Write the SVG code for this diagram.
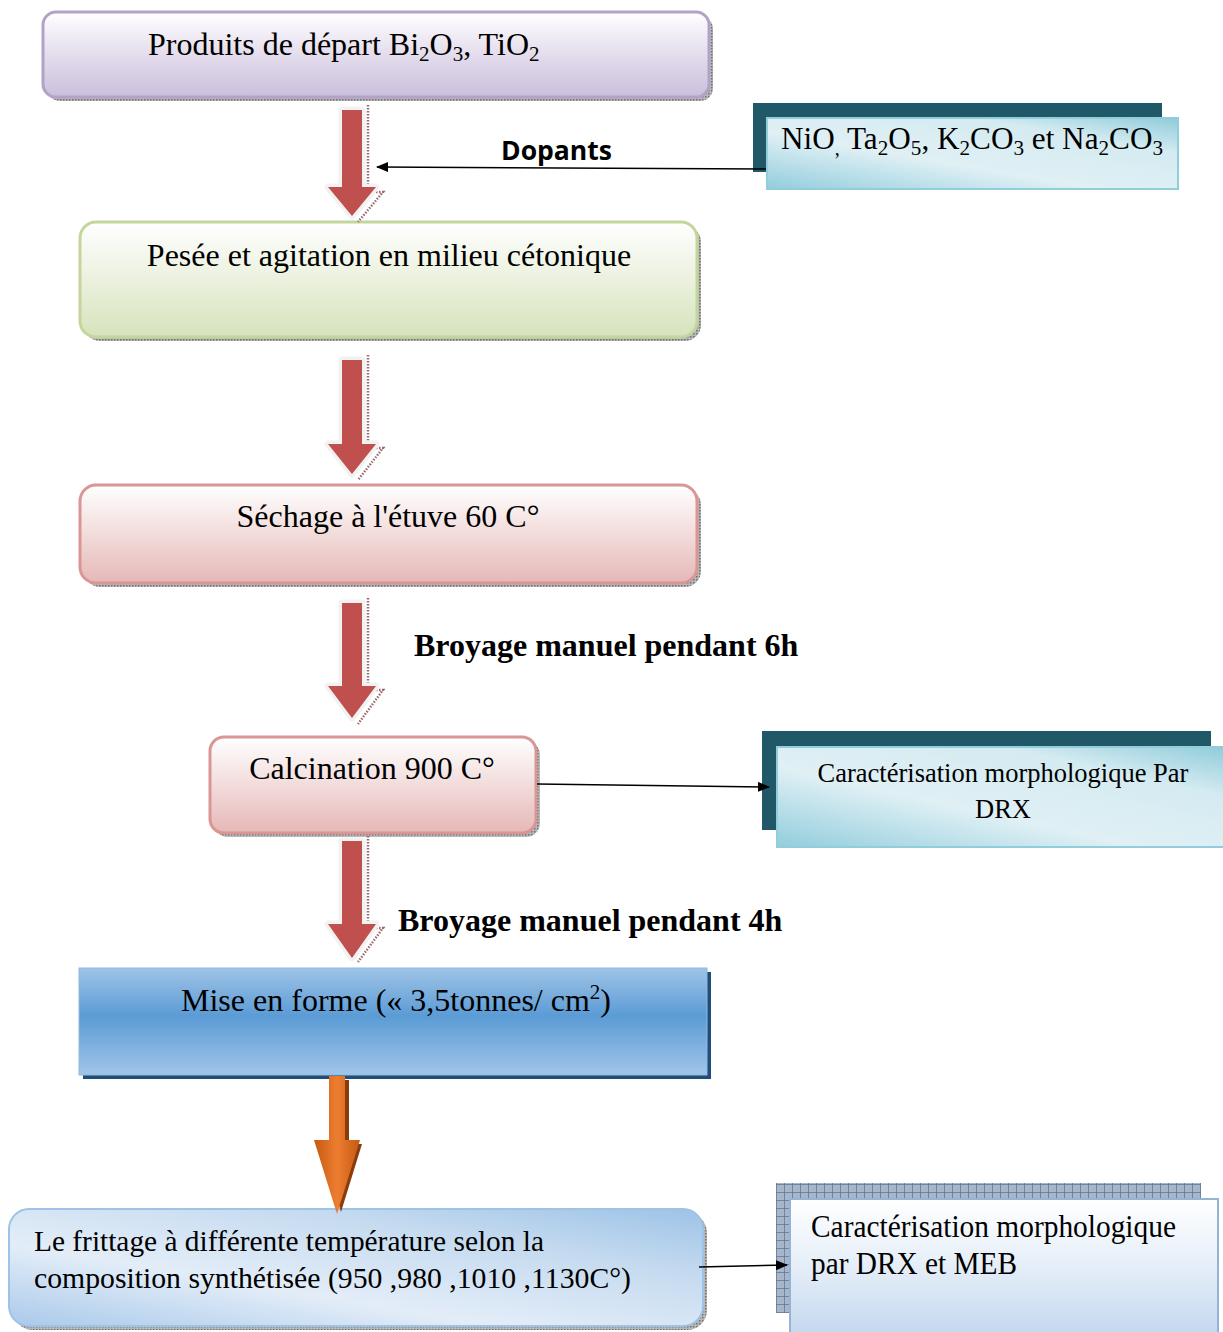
<svg xmlns="http://www.w3.org/2000/svg" width="1223" height="1332" viewBox="0 0 1223 1332">
<defs>
  <style>
    .t { font-family: "Liberation Serif", "Times New Roman", serif; fill: #000; }
    .tb { font-family: "Liberation Serif", "Times New Roman", serif; font-weight: bold; fill: #000; }
    .ts { font-family: "Open Sans", "DejaVu Sans", sans-serif; font-weight: bold; fill: #000; }
    .conn { stroke: #000; stroke-width: 1.5; fill: none; }
    .redarrow { fill: #c0504d; stroke: #f2f2f2; stroke-width: 7; stroke-linejoin: round; paint-order: stroke; }
    .redshadow { fill: none; stroke: #9a6a6a; stroke-width: 2.5; stroke-dasharray: 1.5 1.5; }
  </style>
  <pattern id="dots" width="3" height="3" patternUnits="userSpaceOnUse">
    <rect width="3" height="3" fill="#b8b8b8"/>
    <rect width="1.5" height="1.5" fill="#6f6f6f"/>
  </pattern>
  <pattern id="grid" width="8" height="8" patternUnits="userSpaceOnUse">
    <rect width="8" height="8" fill="#a7b6c9"/>
    <path d="M0 0H8M0 0V8" stroke="#5d7594" stroke-width="1.5"/>
  </pattern>
  <linearGradient id="gPurple" x1="0" y1="0" x2="0" y2="1">
    <stop offset="0" stop-color="#ffffff"/>
    <stop offset="0.5" stop-color="#e4dded"/>
    <stop offset="1" stop-color="#cabfdb"/>
  </linearGradient>
  <linearGradient id="gGreen" x1="0" y1="0" x2="0" y2="1">
    <stop offset="0" stop-color="#ffffff"/>
    <stop offset="0.5" stop-color="#ebf1de"/>
    <stop offset="1" stop-color="#d6e3bc"/>
  </linearGradient>
  <linearGradient id="gPink" x1="0" y1="0" x2="0" y2="1">
    <stop offset="0" stop-color="#ffffff"/>
    <stop offset="0.5" stop-color="#f2dcdb"/>
    <stop offset="1" stop-color="#e5b8b7"/>
  </linearGradient>
  <linearGradient id="gBlue" x1="0" y1="0" x2="0" y2="1">
    <stop offset="0" stop-color="#9fc4e7"/>
    <stop offset="0.45" stop-color="#5b9bd5"/>
    <stop offset="1" stop-color="#a2c5e8"/>
  </linearGradient>
  <linearGradient id="gLightBlue" x1="0" y1="1" x2="1" y2="0">
    <stop offset="0" stop-color="#a9c9ea"/>
    <stop offset="0.35" stop-color="#e3edf8"/>
    <stop offset="0.7" stop-color="#c6dbf0"/>
    <stop offset="1" stop-color="#9dc3e6"/>
  </linearGradient>
  <linearGradient id="gCyan" x1="0" y1="1" x2="1" y2="0">
    <stop offset="0" stop-color="#92cddc"/>
    <stop offset="0.4" stop-color="#e0f0f5"/>
    <stop offset="0.75" stop-color="#d4ebf1"/>
    <stop offset="1" stop-color="#8fcbda"/>
  </linearGradient>
  <linearGradient id="gMeb" x1="0" y1="0" x2="0" y2="1">
    <stop offset="0" stop-color="#ffffff"/>
    <stop offset="0.5" stop-color="#e5eef8"/>
    <stop offset="1" stop-color="#c4d8ef"/>
  </linearGradient>
  <linearGradient id="gOrange" x1="0" y1="0" x2="1" y2="0">
    <stop offset="0" stop-color="#c55a11"/>
    <stop offset="0.5" stop-color="#ed7d31"/>
    <stop offset="1" stop-color="#c55a11"/>
  </linearGradient>
  <marker id="arr" markerWidth="12" markerHeight="10" refX="11" refY="5" orient="auto" markerUnits="userSpaceOnUse">
    <path d="M0 0 L12 5 L0 10 Z" fill="#000"/>
  </marker>
</defs>

<rect width="1223" height="1332" fill="#fff"/>

<g id="node-produits">
  <rect x="47" y="16" width="666" height="85" rx="13" fill="url(#dots)"/>
  <rect x="43" y="12" width="666" height="85" rx="13" fill="url(#gPurple)" stroke="#b3a2c7" stroke-width="3"/>
  <text class="t" x="148" y="55" font-size="32">Produits de départ Bi<tspan font-size="21" dy="6">2</tspan><tspan dy="-6">O</tspan><tspan font-size="21" dy="6">3</tspan><tspan dy="-6">, TiO</tspan><tspan font-size="21" dy="6">2</tspan></text>
</g>

<g id="node-dopants">
  <rect x="753" y="103" width="409" height="69" fill="#215868"/>
  <rect x="767" y="118" width="411" height="71" fill="url(#gCyan)" stroke="#92cddc" stroke-width="2"/>
  <text class="t" x="781" y="149" font-size="31" textLength="382" lengthAdjust="spacingAndGlyphs">NiO<tspan font-size="20" dy="6">,</tspan><tspan dy="-6"> Ta</tspan><tspan font-size="21" dy="6">2</tspan><tspan dy="-6">O</tspan><tspan font-size="21" dy="6">5</tspan><tspan dy="-6">, K</tspan><tspan font-size="21" dy="6">2</tspan><tspan dy="-6">CO</tspan><tspan font-size="21" dy="6">3</tspan><tspan dy="-6"> et Na</tspan><tspan font-size="21" dy="6">2</tspan><tspan dy="-6">CO</tspan><tspan font-size="21" dy="6">3</tspan></text>
</g>

<g id="node-pesee">
  <rect x="84" y="226" width="617" height="115" rx="16" fill="url(#dots)"/>
  <rect x="80" y="222" width="617" height="115" rx="16" fill="url(#gGreen)" stroke="#c3d69b" stroke-width="3"/>
  <text class="t" x="389" y="266" font-size="32" text-anchor="middle">Pesée et agitation en milieu cétonique</text>
</g>

<g id="node-sechage">
  <rect x="84" y="489" width="617" height="98" rx="16" fill="url(#dots)"/>
  <rect x="80" y="485" width="617" height="98" rx="16" fill="url(#gPink)" stroke="#d99694" stroke-width="3"/>
  <text class="t" x="388" y="527" font-size="32" text-anchor="middle">Séchage à l'étuve 60 C°</text>
</g>

<g id="node-calcination">
  <rect x="214" y="741" width="326" height="96" rx="14" fill="url(#dots)"/>
  <rect x="210" y="737" width="326" height="96" rx="14" fill="url(#gPink)" stroke="#d99694" stroke-width="3"/>
  <text class="t" x="372" y="779" font-size="32" text-anchor="middle">Calcination 900 C°</text>
</g>

<g id="node-drx">
  <rect x="762" y="731" width="449" height="99" fill="#215868"/>
  <rect x="777" y="747" width="450" height="100" fill="url(#gCyan)" stroke="#92cddc" stroke-width="2"/>
  <text class="t" x="1003" y="782" font-size="26.5" text-anchor="middle">Caractérisation morphologique Par</text>
  <text class="t" x="1003" y="818" font-size="26.5" text-anchor="middle">DRX</text>
</g>

<g id="node-mise">
  <rect x="83" y="972" width="628" height="107" fill="#1f4e79"/>
  <rect x="79" y="968" width="628" height="107" fill="url(#gBlue)" stroke="#8fb9e0" stroke-width="1"/>
  <text class="t" x="396" y="1011" font-size="32" text-anchor="middle">Mise en forme (« 3,5tonnes/ cm<tspan font-size="21" dy="-12">2</tspan><tspan dy="12">)</tspan></text>
</g>

<g id="node-frittage">
  <rect x="13" y="1213" width="694" height="117" rx="20" fill="url(#dots)"/>
  <rect x="9" y="1209" width="694" height="117" rx="20" fill="url(#gLightBlue)" stroke="#9dc3e6" stroke-width="2"/>
  <text class="t" x="34" y="1251" font-size="30" textLength="510" lengthAdjust="spacingAndGlyphs">Le frittage à différente température selon la</text>
  <text class="t" x="34" y="1288" font-size="30" textLength="597" lengthAdjust="spacingAndGlyphs">composition  synthétisée (950 ,980 ,1010 ,1130C°)</text>
</g>

<g id="node-meb">
  <rect x="776" y="1183" width="425" height="130" fill="url(#grid)"/>
  <rect x="790" y="1199" width="428" height="135" fill="url(#gMeb)" stroke="#95b3d7" stroke-width="2"/>
  <text class="t" x="811" y="1237" font-size="31" textLength="365" lengthAdjust="spacingAndGlyphs">Caractérisation morphologique</text>
  <text class="t" x="811" y="1274" font-size="31" textLength="206" lengthAdjust="spacingAndGlyphs">par DRX et MEB</text>
</g>

<g id="connectors">
  <g id="arrow1">
    <path class="redshadow" d="M368 105 L368 190 M364 192 L383 192 L358 222"/>
    <path class="redarrow" d="M342 110 L362 110 L362 187 L376 187 L352 216 L328 187 L342 187 Z"/>
  </g>
  <g id="arrow2">
    <path class="redshadow" d="M368 355 L368 446 M364 448 L383 448 L358 480"/>
    <path class="redarrow" d="M342 360 L362 360 L362 444 L376 444 L352 474 L328 444 L342 444 Z"/>
  </g>
  <g id="arrow3">
    <path class="redshadow" d="M368 598 L368 688 M364 690 L383 690 L358 724"/>
    <path class="redarrow" d="M342 603 L362 603 L362 686 L376 686 L352 718 L328 686 L342 686 Z"/>
  </g>
  <g id="arrow4">
    <path class="redshadow" d="M368 836 L368 926 M364 928 L383 928 L358 962"/>
    <path class="redarrow" d="M342 841 L362 841 L362 924 L376 924 L352 958 L328 924 L342 924 Z"/>
  </g>
  <g id="arrow5">
    <path d="M333 1080 L349 1080 L349 1144 L362 1144 L341 1212 L320 1144 L333 1144 Z" fill="#8a3d0c"/>
    <path d="M329 1076 L345 1076 L345 1140 L360 1140 L337 1214 L314 1140 L329 1140 Z" fill="url(#gOrange)"/>
  </g>
  <line class="conn" x1="766" y1="169" x2="377" y2="167" marker-end="url(#arr)"/>
  <line class="conn" x1="537" y1="784" x2="769" y2="787" marker-end="url(#arr)"/>
  <line class="conn" x1="699" y1="1267" x2="787" y2="1265" marker-end="url(#arr)"/>
  <text class="ts" x="501" y="160" font-size="26" textLength="111" lengthAdjust="spacingAndGlyphs">Dopants</text>
  <text class="tb" x="414" y="656" font-size="32">Broyage manuel pendant 6h</text>
  <text class="tb" x="398" y="931" font-size="32">Broyage manuel pendant 4h</text>
</g>
</svg>
